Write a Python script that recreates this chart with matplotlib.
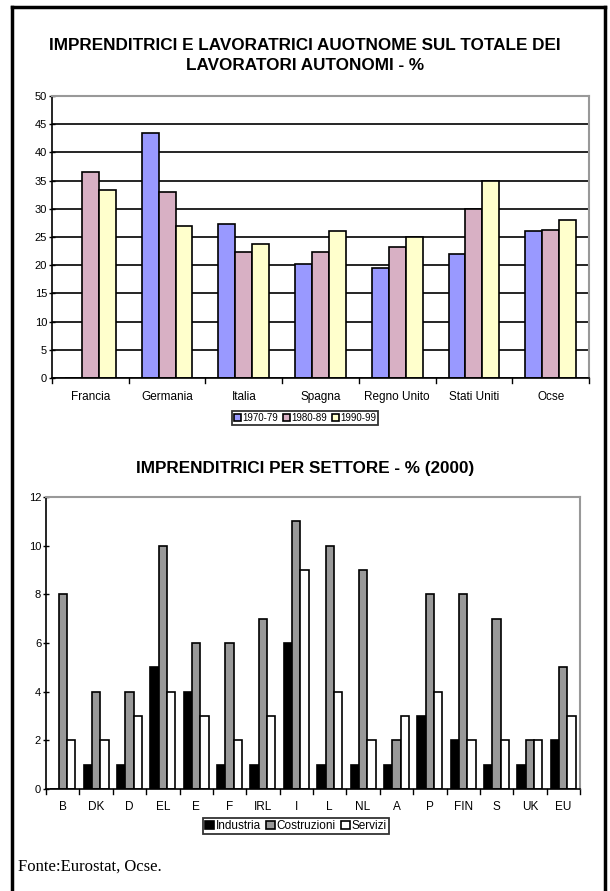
import matplotlib.pyplot as plt
import numpy as np
from matplotlib.lines import Line2D

# data: top chart, share of women among the self-employed (%)
paesi = ['Francia', 'Germania', 'Italia', 'Spagna', 'Regno Unito', 'Stati Uniti', 'Ocse']
periodi = ['1970-79', '1980-89', '1990-99']
v_1970 = [0, 43.5, 27.3, 20.3, 19.5, 22.0, 26.0]
v_1980 = [36.5, 33.0, 22.3, 22.3, 23.2, 30.0, 26.3]
v_1990 = [33.3, 27.0, 23.8, 26.0, 25.0, 35.0, 28.0]

# data: bottom chart, women entrepreneurs by sector (2000)
stati = ['B', 'DK', 'D', 'EL', 'E', 'F', 'IRL', 'I', 'L', 'NL', 'A', 'P', 'FIN', 'S', 'UK', 'EU']
settori = ['Industria', 'Costruzioni', 'Servizi']
industria = [0, 1, 1, 5, 4, 1, 1, 6, 1, 1, 1, 3, 2, 1, 1, 2]
costruzioni = [8, 4, 4, 10, 6, 6, 7, 11, 10, 9, 2, 8, 8, 7, 2, 5]
servizi = [2, 2, 3, 4, 3, 2, 3, 9, 4, 2, 3, 4, 2, 2, 2, 3]

plt.rcParams['font.family'] = ['Liberation Sans', 'DejaVu Sans']

W, H = 610, 891
fig = plt.figure(figsize=(W / 100, H / 100), dpi=100)


def px_axes(x0, y0, x1, y1):
    # axes placed by pixel box (top-left origin)
    return fig.add_axes([x0 / W, 1 - y1 / H, (x1 - x0) / W, (y1 - y0) / H])


def excel_style(ax, ymax, step, grid):
    ax.set_ylim(0, ymax)
    ax.set_yticks(np.arange(0, ymax + 0.1, step))
    ax.tick_params(axis='y', direction='inout', length=5, width=1, labelsize=8, pad=1)
    ax.tick_params(axis='x', length=0, labelsize=8.5, pad=9)
    for s in ['top', 'right']:
        ax.spines[s].set_color('#999999')
        ax.spines[s].set_linewidth(1.5)
    for s in ['left', 'bottom']:
        ax.spines[s].set_color('black')
        ax.spines[s].set_linewidth(1.2)
    if grid:
        ax.yaxis.grid(True, color='black', linewidth=1.2)
        ax.set_axisbelow(True)


def group_ticks(ax, n):
    # small ticks between categories, below the axis
    for k in range(n + 1):
        ax.plot([k - 0.5, k - 0.5], [0, -0.016], transform=ax.get_xaxis_transform(),
                color='black', lw=1, clip_on=False)


def legenda(ax, cx, cy, size):
    leg = ax.legend(loc='center', bbox_to_anchor=(cx / W, 1 - cy / H),
                    bbox_transform=fig.transFigure, ncol=3, fontsize=size,
                    frameon=True, fancybox=False, edgecolor='black', handlelength=0.7,
                    handleheight=0.7, handletextpad=0.15, columnspacing=0.5,
                    borderpad=0.2, borderaxespad=0)
    leg.get_frame().set_linewidth(1.3)
    return leg


# top chart
ax1 = px_axes(52, 96, 589, 378)
x = np.arange(len(paesi))
w = 0.22
cols1 = ['#9999FF', '#D8B0C4', '#FFFFCC']
for i, (vals, c) in enumerate(zip([v_1970, v_1980, v_1990], cols1)):
    ax1.bar(x + (i - 1) * w, vals, w, color=c, edgecolor='black', linewidth=1.2,
            label=periodi[i])
ax1.set_xlim(-0.5, len(paesi) - 0.5)
ax1.set_xticks(x)
ax1.set_xticklabels(paesi)
excel_style(ax1, 50, 5, True)
group_ticks(ax1, len(paesi))
legenda(ax1, 305, 418, 7)

# bottom chart
ax2 = px_axes(46, 497, 580, 789)
x2 = np.arange(len(stati))
w2 = 0.25
cols2 = ['black', '#999999', 'white']
for i, (vals, c) in enumerate(zip([industria, costruzioni, servizi], cols2)):
    ax2.bar(x2 + (i - 1) * w2, vals, w2, color=c, edgecolor='black', linewidth=1.2,
            label=settori[i])
ax2.set_xlim(-0.5, len(stati) - 0.5)
ax2.set_xticks(x2)
ax2.set_xticklabels(stati)
excel_style(ax2, 12, 2, False)
group_ticks(ax2, len(stati))
legenda(ax2, 296, 826, 8.5)

# titles
fig.text(0.5, 1 - 45 / H, 'IMPRENDITRICI E LAVORATRICI AUOTNOME SUL TOTALE DEI',
         ha='center', va='center', fontsize=12.3, fontweight='bold')
fig.text(0.5, 1 - 66 / H, 'LAVORATORI AUTONOMI - %',
         ha='center', va='center', fontsize=12.3, fontweight='bold')
fig.text(0.5, 1 - 468 / H, 'IMPRENDITRICI PER SETTORE - % (2000)',
         ha='center', va='center', fontsize=12.3, fontweight='bold')
fig.text(18 / W, 1 - 867 / H, 'Fonte:Eurostat, Ocse.', ha='left', va='center',
         fontsize=12, family='Liberation Serif')

# page frame
for xs, ys in [([12.5, 12.5], [6.5, H]), ([605, 605], [6.5, H]), ([12.5, 605], [6.5, 6.5])]:
    fig.add_artist(Line2D([v / W for v in xs], [1 - v / H for v in ys],
                          color='black', lw=2.5, transform=fig.transFigure,
                          solid_capstyle='projecting'))

fig.savefig('out.png', dpi=100)
